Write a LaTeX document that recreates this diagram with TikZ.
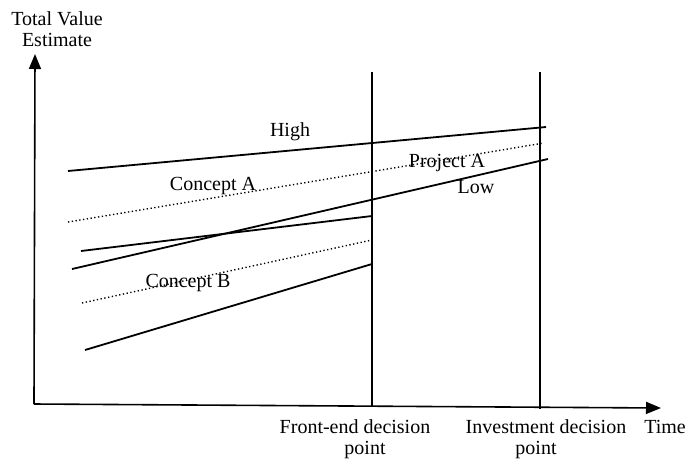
\documentclass[tikz,border=0pt]{standalone}
\usepackage{fontspec}
\setmainfont{Liberation Serif}
\usetikzlibrary{arrows.meta}
\begin{document}
\begin{tikzpicture}[x=1pt,y=-1pt,
  lbl/.style={inner sep=0pt,font=\fontsize{20}{21.5}\selectfont,align=center},
  solidln/.style={line width=1.8pt},
  dotln/.style={line width=1.4pt,dash pattern=on 1.3pt off 2.5pt},
  axis/.style={line width=1.6pt,-{Triangle[length=15pt,width=12pt]}}]
\useasboundingbox (0,0) rectangle (688,459);
% axes
\coordinate (o) at (34,404);
\coordinate (ytip) at (35,54);
\coordinate (xtip) at (661,408);
\draw[axis] (o) -- (ytip);
\draw[axis] (o) -- (xtip);
% decision lines
\coordinate (f1) at (372,72);
\coordinate (f2) at (372,407);
\coordinate (i1) at (540,72);
\coordinate (i2) at (540,409);
\draw[solidln] (f1) -- (f2);
\draw[solidln] (i1) -- (i2);
% project lines
\coordinate (h1) at (68,171);
\coordinate (h2) at (546,127);
\draw[solidln] (h1) -- (h2);
\coordinate (pa1) at (68,222);
\coordinate (pa2) at (544,143);
\draw[dotln] (pa1) -- (pa2);
\coordinate (l1) at (72,269);
\coordinate (l2) at (548,159);
\draw[solidln] (l1) -- (l2);
% concept lines
\coordinate (ca1) at (81,251);
\coordinate (ca2) at (372,216);
\draw[solidln] (ca1) -- (ca2);
\coordinate (cb1) at (82,303);
\coordinate (cb2) at (372,240);
\draw[dotln] (cb1) -- (cb2);
\coordinate (cc1) at (85,350);
\coordinate (cc2) at (372,264);
\draw[solidln] (cc1) -- (cc2);
% labels
\node[lbl] (tve) at (57,29) {Total Value\\Estimate};
\node[lbl] (high) at (290,132) {High};
\node[lbl] (conA) at (213,186) {Concept A};
\node[lbl] (conB) at (188,283) {Concept B};
\node[lbl] (projA) at (447,163) {Project A};
\node[lbl] (low) at (476,187) {Low};
\node[lbl] (fe) at (355,439) {Front-end decision\\\hphantom{xx}point};
\node[lbl] (inv) at (546,439) {Investment decision\\point\hphantom{xx}};
\node[lbl] (time) at (665,427) {Time};
\end{tikzpicture}
\end{document}
